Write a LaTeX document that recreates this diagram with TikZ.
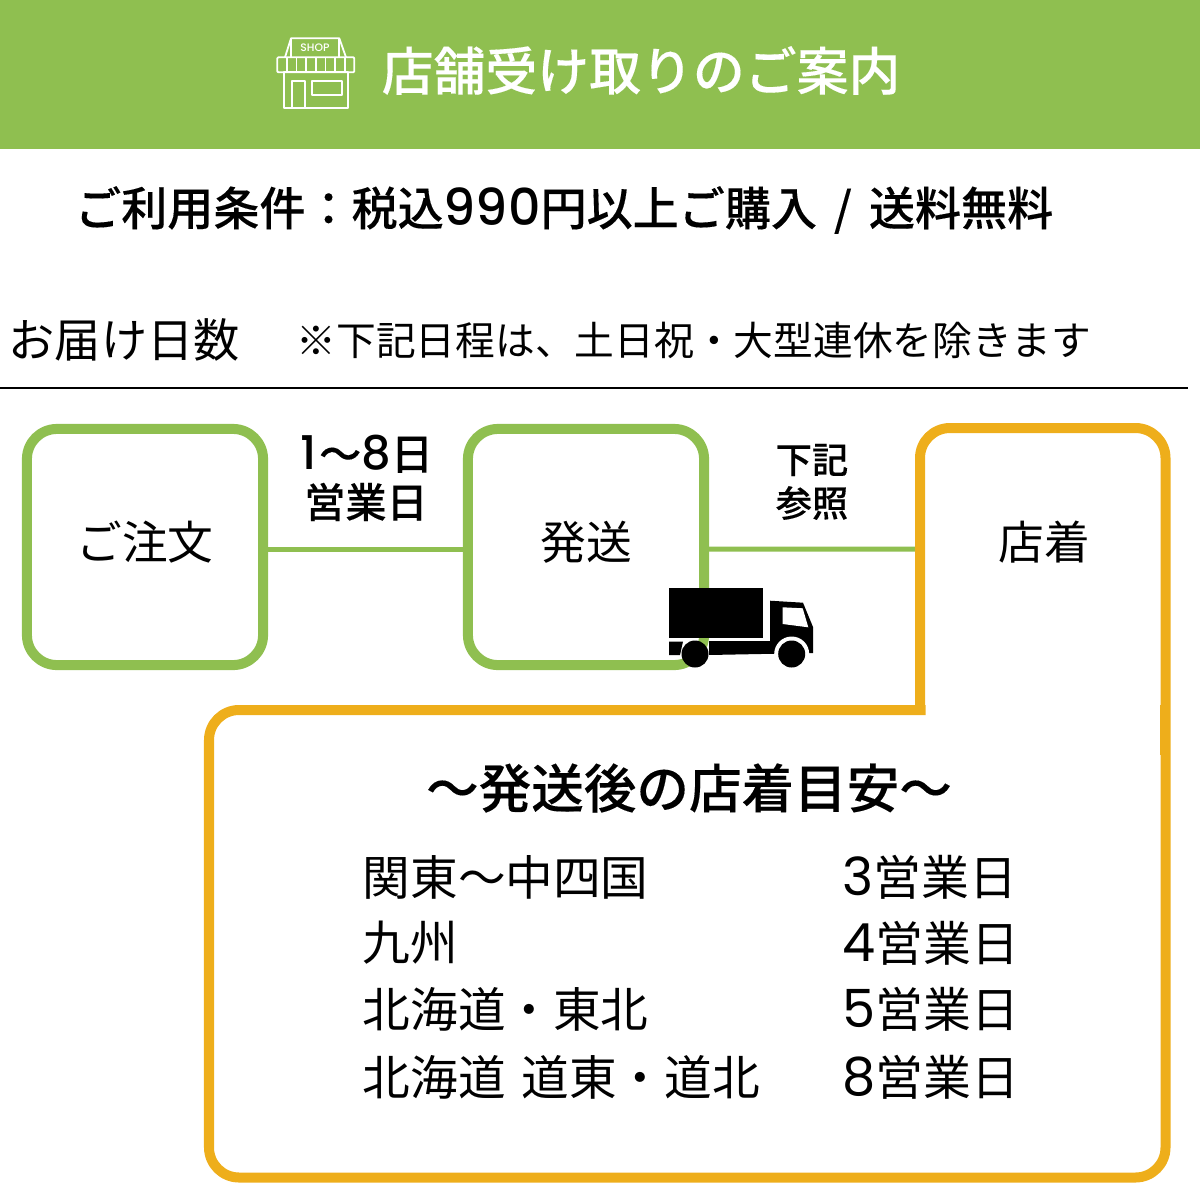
\documentclass[tikz,border=0pt]{standalone}
\usepackage{fontspec}
\setmainfont{Noto Sans CJK JP}
\newfontfamily\medfont[FakeBold=0.2]{Noto Sans CJK JP Medium}
\newfontfamily\latinfont[Scale=1.1]{Poppins}
\newfontfamily\latinmed[Scale=1.1]{Poppins Medium}
\definecolor{leaf}{HTML}{8FBF50}
\definecolor{amber}{HTML}{EEAE1B}
\tikzset{
	lbl/.style={inner sep=0pt,anchor=west},
	txtlist/.style={lbl,font=\fontsize{13.55}{16}\selectfont},
	txtdays/.style={lbl,font=\fontsize{13.6}{16}\selectfont},
	greenbox/.style={draw=leaf,line width=0.1cm,rounded corners=0.3cm,minimum width=2.36cm,minimum height=2.36cm,font=\fontsize{13}{16}\selectfont},
	icon/.style={white,line width=0.018cm,line join=round},
}
\begin{document}
\begin{tikzpicture}[x=0.01cm,y=-0.01cm]
		\useasboundingbox (0,0) rectangle (1200,1200);
		\fill[leaf] (0,0) rectangle (1200,149); %見出し
		\draw[icon] (284,72.3) rectangle (347.7,108.3);
		\draw[icon,rounded corners=0.01cm] (277.3,57.3) rectangle (354.3,72.3);
		\foreach \i in {1,...,7} \draw[icon] (277.3+9.625*\i,57.3)--(277.3+9.625*\i,72.3); %ひさし
		\draw[icon] (285,57.3)--(291,38.3)--(339.3,38.3)--(346,57.3);
		\draw[icon] (291,38.3)--(291,57.3);
		\draw[icon] (339.3,38.3)--(339.3,57.3);
		\draw[icon] (291.7,108.3)--(291.7,80.7)--(305,80.7)--(305,108.3);
		\draw[icon] (311.7,80.7) rectangle (341.7,94.7);
		\draw (315,47.3) node[white,inner sep=0pt,font=\latinmed\fontsize{2.8}{3}\selectfont] (shoplabel) {SHOP};
		\draw (381,70.5) node[lbl,white,font=\medfont\fontsize{14.75}{18}\selectfont] (title) {店舗受け取りのご案内};
		\draw (74.5,210) node[lbl,font=\medfont\fontsize{13.1}{16}\selectfont] (terms) {ご利用条件：税込{\latinmed 990}円以上ご購入\kern0.17cm/\kern0.17cm 送料無料};
		\draw (8,340) node[lbl,font=\fontsize{13.15}{16}\selectfont] (days) {お届け日数};
		\draw (296,340) node[lbl,font=\fontsize{11.3}{14}\selectfont] (note) {※下記日程は、土日祝・大型連休を除きます};
		\coordinate (ruleL) at (0,388);
		\coordinate (ruleR) at (1188,388);
		\draw[line width=0.02cm] (ruleL)--(ruleR);

		\node[greenbox] (order) at (145,547) {ご注文\rule[-0.136cm]{0pt}{0pt}};
		\node[greenbox] (ship) at (586,547) {発送\rule[-0.136cm]{0pt}{0pt}};
		\coordinate (storeedge) at (920,549);
		\draw[leaf,line width=0.05cm] ([yshift=-0.02cm]order.east)--([yshift=-0.02cm]ship.west);
		\draw[leaf,line width=0.05cm] ([yshift=-0.02cm]ship.east)--(storeedge);
		\draw (367,454) node[inner sep=0pt,font=\medfont\fontsize{12}{14}\selectfont] (termA) {{\latinmed 1}\kern0.02cm～{\latinmed 8}日};
		\draw (366,502) node[inner sep=0pt,font=\medfont\fontsize{11.7}{14}\selectfont] (termB) {営業日};
		\draw (812,460) node[inner sep=0pt,font=\medfont\fontsize{10.3}{13}\selectfont] (refA) {下記};
		\draw (812,503) node[inner sep=0pt,font=\medfont\fontsize{10.3}{13}\selectfont] (refB) {参照};
		\draw (1044.5,542) node[inner sep=0pt,font=\fontsize{13}{16}\selectfont] (store) {店着};

		%店着の枠
		\draw[amber,line width=0.1cm,rounded corners=0.3cm] (920,710)--(920,428)--(1165.5,428)--(1165.5,1177.5)--(209,1177.5)--(209,710)--(925.5,710);
		\fill[amber] (1159.5,705) rectangle (1166,755);

		%トラック
		\fill (669.3,588.3) rectangle (763.3,638.3);
		\fill (770,600.7)--(803,602.7)--(813,627)--(813,653)--(709,655)--(709,641)--(770,641)--cycle;
		\fill (669,641.5)--(683,641.5)--(680,655)--(669,655)--cycle;
		\fill[white] (791.7,654) circle (17.5);
		\fill[white] (770,655) rectangle (813,675);
		\fill[white] (700,655) rectangle (722,662);
		\fill[white] (782.7,607.3)--(802.7,608.3)--(808.3,627.3)--(782.7,624)--cycle;
		\fill (695,654) circle (13.5);
		\fill (791.7,654) circle (13.5);

		\draw (689,788) node[inner sep=0pt,font=\medfont\fontsize{14.95}{18}\selectfont] (guide) {～発送後の店着目安～};
		\draw (362,877) node[txtlist] (areaA) {関東～中四国};
		\draw (362,943) node[txtlist] (areaB) {九州};
		\draw (362,1009) node[txtlist] (areaC) {北海道・東北};
		\draw (362,1077) node[txtlist] (areaD) {北海道\kern0.16cm 道東・道北};
		\draw (842,877) node[txtdays] (daysA) {{\latinfont 3}営業日};
		\draw (842,943) node[txtdays] (daysB) {{\latinfont 4}営業日};
		\draw (842,1009) node[txtdays] (daysC) {{\latinfont 5}営業日};
		\draw (842,1077) node[txtdays] (daysD) {{\latinfont 8}営業日};
	\end{tikzpicture}
\end{document}
